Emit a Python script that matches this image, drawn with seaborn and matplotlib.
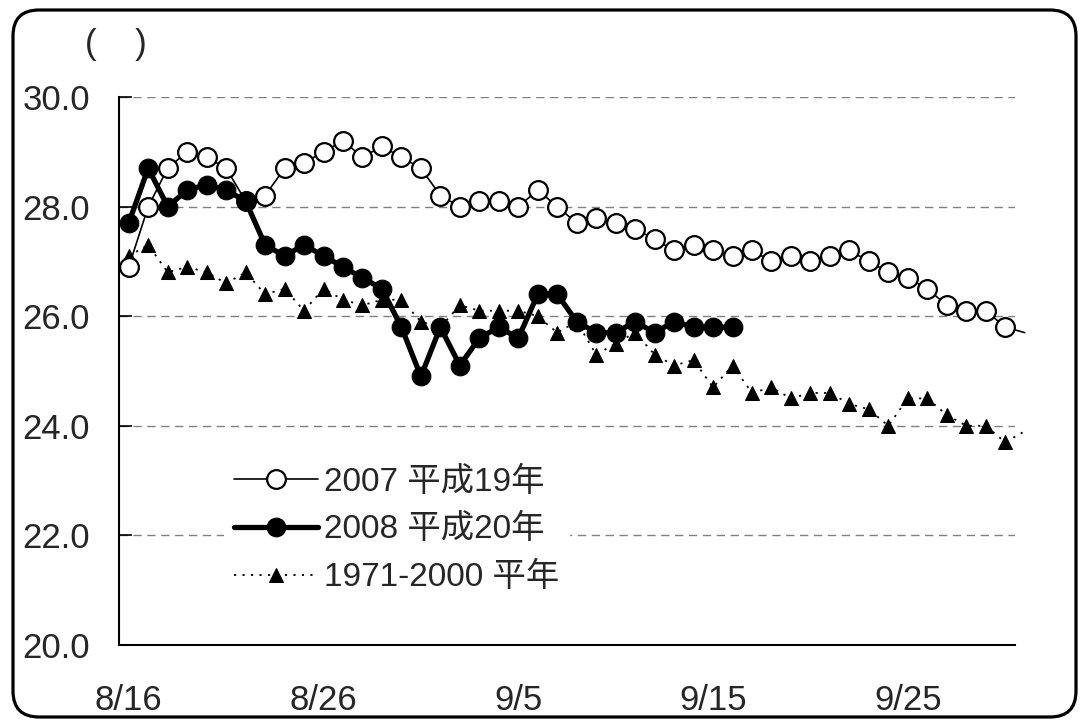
import numpy as np
import pandas as pd
import matplotlib
matplotlib.use("Agg")
import matplotlib.pyplot as plt
import seaborn as sns
from matplotlib.patches import FancyBboxPatch
from matplotlib.ticker import FixedLocator

# daily temperatures 8/16 .. 10/1 (last value only continues the line past the axis)
t2007 = [26.9, 28.0, 28.7, 29.0, 28.9, 28.7, 28.1, 28.2, 28.7, 28.8,
         29.0, 29.2, 28.9, 29.1, 28.9, 28.7, 28.2, 28.0, 28.1, 28.1,
         28.0, 28.3, 28.0, 27.7, 27.8, 27.7, 27.6, 27.4, 27.2, 27.3,
         27.2, 27.1, 27.2, 27.0, 27.1, 27.0, 27.1, 27.2, 27.0, 26.8,
         26.7, 26.5, 26.2, 26.1, 26.1, 25.8, 25.7]
t2008 = [27.7, 28.7, 28.0, 28.3, 28.4, 28.3, 28.1, 27.3, 27.1, 27.3,
         27.1, 26.9, 26.7, 26.5, 25.8, 24.9, 25.8, 25.1, 25.6, 25.8,
         25.6, 26.4, 26.4, 25.9, 25.7, 25.7, 25.9, 25.7, 25.9, 25.8,
         25.8, 25.8]
normal = [27.1, 27.3, 26.8, 26.9, 26.8, 26.6, 26.8, 26.4, 26.5, 26.1,
          26.5, 26.3, 26.2, 26.3, 26.3, 25.9, 25.8, 26.2, 26.1, 26.1,
          26.1, 26.0, 25.7, 25.9, 25.3, 25.5, 25.7, 25.3, 25.1, 25.2,
          24.7, 25.1, 24.6, 24.7, 24.5, 24.6, 24.6, 24.4, 24.3, 24.0,
          24.5, 24.5, 24.2, 24.0, 24.0, 23.7, 23.9]
n_days = 46
tick_days = [0, 10, 20, 30, 40]
tick_labels = ["8/16", "8/26", "9/5", "9/15", "9/25"]
names = ["2007 平成19年", "2008 平成20年", "1971-2000 平年"]

sns.set_style("white")
plt.rcParams['font.family'] = ['Liberation Sans', 'Noto Sans CJK JP']

df07 = pd.DataFrame({"day": np.arange(len(t2007)), "temp": t2007})
df08 = pd.DataFrame({"day": np.arange(len(t2008)), "temp": t2008})
dfn = pd.DataFrame({"day": np.arange(len(normal)), "temp": normal})

fig, ax = plt.subplots(figsize=(10.82, 7.21), dpi=100)
fig.subplots_adjust(left=0.110, right=0.938, bottom=0.1054, top=0.8655)

sns.lineplot(data=dfn, x="day", y="temp", ax=ax, color="black", lw=1.3,
             linestyle=(0, (1.2, 3.5)), marker="^", markersize=10,
             markeredgecolor="black", markerfacecolor="black",
             markevery=slice(0, n_days), clip_on=False, zorder=3)
sns.lineplot(data=df07, x="day", y="temp", ax=ax, color="black", lw=1.2,
             marker="o", markersize=13.5, markerfacecolor="white",
             markeredgecolor="black", markeredgewidth=1.6,
             markevery=slice(0, n_days), clip_on=False, zorder=4)
sns.lineplot(data=df08, x="day", y="temp", ax=ax, color="black", lw=3.8,
             marker="o", markersize=13.5, markerfacecolor="black",
             markeredgecolor="black", zorder=5)

lines = ax.get_lines()
leg = ax.legend([lines[1], lines[2], lines[0]], names, loc="upper left",
                bbox_to_anchor=(0.192, 0.390), bbox_transform=fig.transFigure,
                fontsize=24, handlelength=2.5, handletextpad=0.2,
                labelspacing=0.5, borderpad=0.3, frameon=True, fancybox=False)
leg.get_frame().set_facecolor("white")
leg.get_frame().set_edgecolor("none")
leg.get_frame().set_alpha(1)
leg.set_zorder(6)

ax.set_xlim(-0.5, n_days - 0.5)
ax.set_ylim(20, 30)
ax.set_yticks(np.arange(20, 31, 2))
ax.set_yticklabels([f"{v:.1f}" for v in np.arange(20, 31, 2)])
ax.set_xticks(tick_days)
ax.set_xticklabels(tick_labels)
ax.xaxis.set_minor_locator(FixedLocator([9.5, 19.5, 29.5, 39.5]))
ax.set_xlabel("")
ax.set_ylabel("")

ax.tick_params(axis="x", which="major", length=0, pad=28, labelsize=25)
ax.tick_params(axis="x", which="minor", direction="in", length=9, width=1.2,
               color="black")
ax.tick_params(axis="y", direction="in", length=9, width=1.2, color="black",
               pad=21, labelsize=25, left=True)

ax.yaxis.grid(True, linestyle=(0, (6, 4)), color="#808080", lw=1)
ax.xaxis.grid(False)
for s in ["top", "right"]:
    ax.spines[s].set_visible(False)
for s in ["left", "bottom"]:
    ax.spines[s].set_color("black")
    ax.spines[s].set_linewidth(1.5)
    ax.spines[s].set_zorder(7)

fig.text(0.107, 0.938, "(    )", fontsize=25, ha="center", va="center")

# rounded chart border, in pixels
border = FancyBboxPatch((13, 4), 1063, 707,
                        boxstyle="round,pad=0,rounding_size=26",
                        transform=None, fill=False, edgecolor="black",
                        linewidth=2.3)
fig.patches.append(border)

fig.savefig("out.png", dpi=100)
